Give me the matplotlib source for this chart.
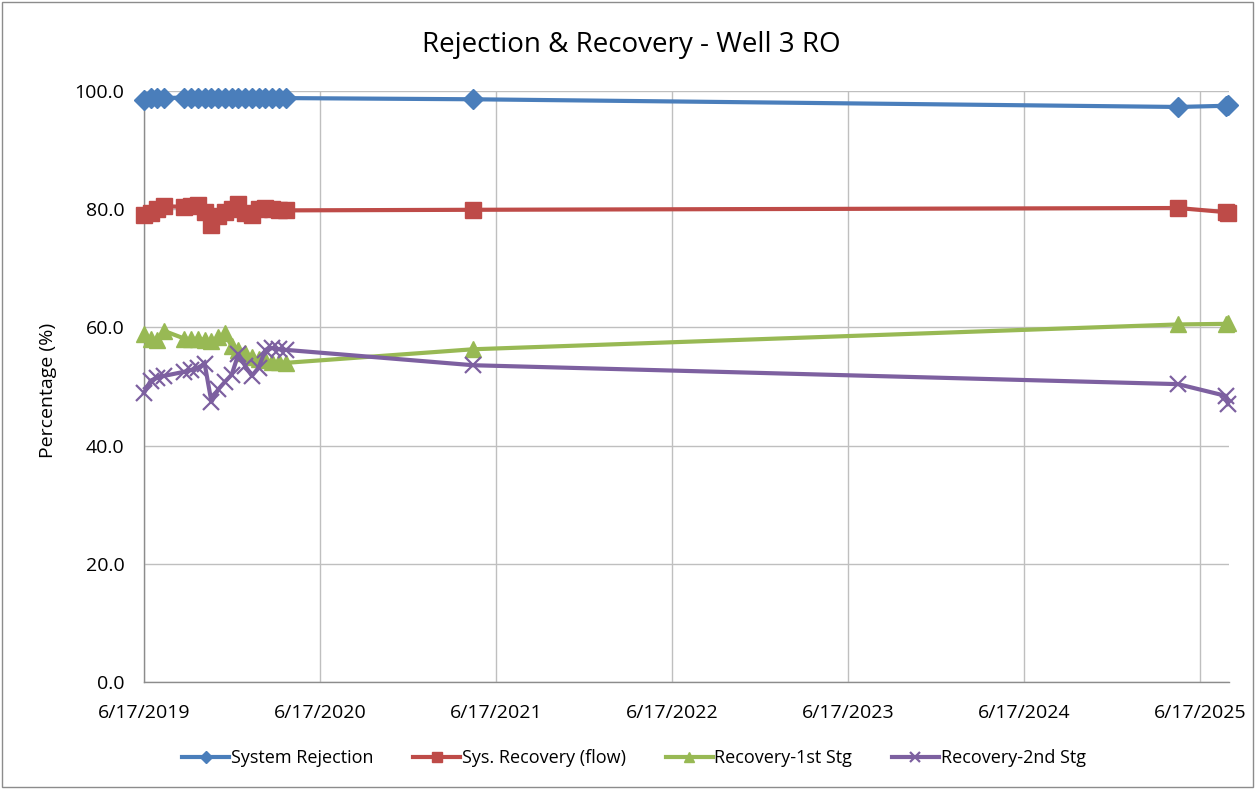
import matplotlib
matplotlib.use("Agg")
import matplotlib.pyplot as plt
import matplotlib.dates as mdates
from matplotlib.patches import Rectangle
import pandas as pd

plt.rcParams['font.family'] = ['Open Sans', 'DejaVu Sans']

# Sample dates: bi-weekly readings 2019-2020, then spot checks
early = pd.date_range("2019-06-17", periods=4, freq="14D").tolist() + \
        pd.date_range("2019-09-09", periods=16, freq="14D").tolist()
dates = early + [pd.Timestamp("2021-04-30"), pd.Timestamp("2025-05-02"),
                 pd.Timestamp("2025-08-10"), pd.Timestamp("2025-08-14")]

system_rejection = [98.5, 98.8, 98.9, 98.8, 98.9, 98.8, 98.9, 98.8, 98.9, 98.8,
                    98.9, 98.8, 98.9, 98.8, 98.9, 98.8, 98.9, 98.8, 98.9, 98.8,
                    98.6, 97.3, 97.5, 97.6]
sys_recovery = [79.0, 79.4, 80.0, 80.5, 80.4, 80.5, 80.7, 79.6, 77.4, 78.8,
                79.5, 80.0, 80.8, 79.4, 79.1, 80.0, 80.2, 80.0, 79.9, 79.8,
                79.9, 80.2, 79.5, 79.3]
recovery_1st = [58.8, 58.1, 57.9, 59.4, 58.1, 58.0, 58.1, 57.9, 57.7, 58.3,
                59.0, 56.8, 56.2, 55.6, 55.0, 54.6, 54.4, 54.2, 54.1, 54.0,
                56.3, 60.5, 60.6, 60.8]
recovery_2nd = [48.9, 51.0, 51.5, 51.8, 52.5, 52.8, 53.2, 53.8, 47.4, 49.5,
                50.8, 52.0, 55.5, 53.5, 51.8, 53.2, 56.2, 56.5, 56.3, 56.2,
                53.6, 50.4, 48.4, 47.0]

series_names = ["System Rejection", "Sys. Recovery (flow)", "Recovery-1st Stg", "Recovery-2nd Stg"]
tick_dates = [pd.Timestamp(f"{y}-06-17") for y in range(2019, 2026)]
y_ticks = [0, 20, 40, 60, 80, 100]

W, H = 1255, 789
fig = plt.figure(figsize=(W / 100, H / 100), dpi=100)
fig.patch.set_facecolor("white")
fig.patches.append(Rectangle((2 / W, 2 / H), 1 - 4 / W, 1 - 4 / H, transform=fig.transFigure,
                             fill=False, edgecolor="#8C8C8C", linewidth=1.0))

ax = fig.add_axes([144 / W, 1 - 682 / H, (1229 - 144) / W, (682 - 91) / H])

styles = [
    (system_rejection, "#4A7EBB", "D", 10),
    (sys_recovery, "#BE4B48", "s", 12),
    (recovery_1st, "#98B954", "^", 12),
    (recovery_2nd, "#7D60A0", "x", 11),
]
handles = []
for (vals, color, marker, ms), name in zip(styles, series_names):
    mew = 1.6 if marker == "x" else 1.0
    h, = ax.plot(dates, vals, color=color, linewidth=3.0, marker=marker, markersize=ms,
                 markeredgecolor=color, markerfacecolor=color, markeredgewidth=mew,
                 clip_on=False, label=name, zorder=3)
    handles.append(h)

ax.set_ylim(0, 100)
ax.set_yticks(y_ticks)
ax.yaxis.set_major_formatter(matplotlib.ticker.FormatStrFormatter("%.1f"))
ax.set_xlim(pd.Timestamp("2019-06-17"), pd.Timestamp("2025-08-16"))
ax.set_xticks(tick_dates)
ax.xaxis.set_major_formatter(mdates.DateFormatter("%-m/%-d/%Y"))

ax.grid(True, color="#BFBFBF", linewidth=1.0, zorder=0)
ax.set_axisbelow(True)
for s in ["top", "right"]:
    ax.spines[s].set_visible(False)
for s in ["left", "bottom"]:
    ax.spines[s].set_color("#8C8C8C")
    ax.spines[s].set_linewidth(1.0)
ax.tick_params(axis="both", length=0, labelsize=14, colors="#000000")
ax.tick_params(axis="y", pad=14)
ax.tick_params(axis="x", pad=16)

fig.text(48 / W, 1 - 390 / H, "Percentage (%)", rotation=90, ha="center", va="center", fontsize=14)
fig.text(0.5 * (418 + 845) / W, 1 - 45 / H, "Rejection & Recovery - Well 3 RO",
         ha="center", va="center", fontsize=20)

fig.legend(handles=handles, loc="center", bbox_to_anchor=(0.5 * (178 + 1090) / W, 1 - 758 / H),
           ncol=4, frameon=False, fontsize=13, handlelength=2.6, columnspacing=2.2,
           handletextpad=0.1, markerscale=0.6)

fig.savefig("out.png", dpi=100)
